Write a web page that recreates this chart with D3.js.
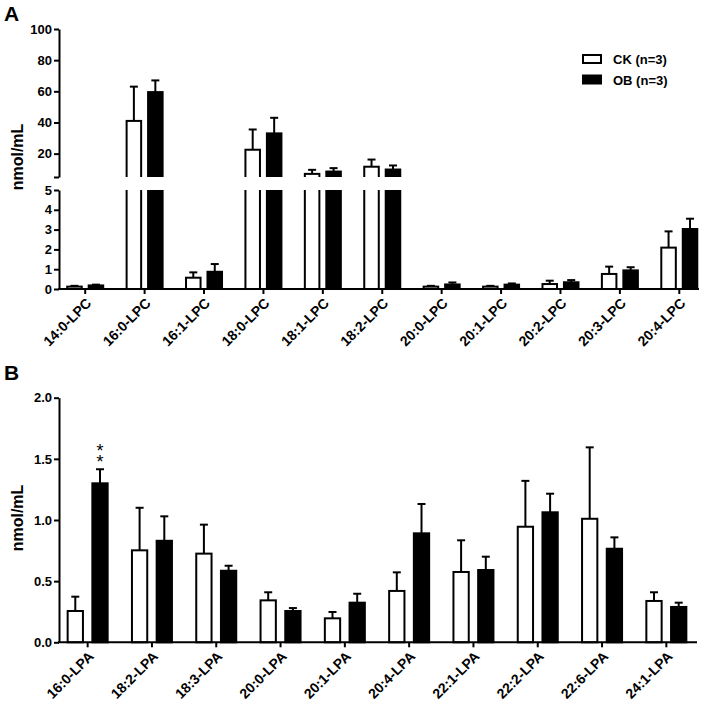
<!DOCTYPE html>
<html><head><meta charset="utf-8">
<script src="https://cdn.jsdelivr.net/npm/d3@7"></script>
<style>
body{margin:0;background:#fff;}
svg{display:block;}
svg text{font-family:"Liberation Sans",Arial,Helvetica,sans-serif !important;font-weight:bold;fill:#000;}
</style></head><body>
<svg id="c" width="709" height="708"></svg>
<script>
// ---- Panel A data (LPC) ----
const lpcCategories = ["14:0-LPC","16:0-LPC","16:1-LPC","18:0-LPC","18:1-LPC","18:2-LPC","20:0-LPC","20:1-LPC","20:2-LPC","20:3-LPC","20:4-LPC"];
const lpcCK    = [0.12, 41, 0.57, 22.5, 7.0, 11.6, 0.12, 0.12, 0.25, 0.76, 2.09];
const lpcCKErr = [0.04, 22, 0.27, 13,   2.6, 4.6,  0.04, 0.04, 0.17, 0.37, 0.82];
const lpcOB    = [0.18, 59.5, 0.87, 33, 8.5, 9.8,  0.23, 0.22, 0.34, 0.94, 3.03];
const lpcOBErr = [0.04, 7.5, 0.39, 10,  2.2, 2.6,  0.10, 0.06, 0.11, 0.16, 0.52];
const lpcUpperTicks = [5, 20, 40, 60, 80, 100];
const lpcLowerTicks = [0, 1, 2, 3, 4, 5];

// ---- Panel B data (LPA) ----
const lpaCategories = ["16:0-LPA","18:2-LPA","18:3-LPA","20:0-LPA","20:1-LPA","20:4-LPA","22:1-LPA","22:2-LPA","22:6-LPA","24:1-LPA"];
const lpaCK    = [0.256, 0.752, 0.725, 0.343, 0.196, 0.420, 0.575, 0.945, 1.010, 0.338];
const lpaCKErr = [0.117, 0.348, 0.237, 0.066, 0.052, 0.152, 0.259, 0.375, 0.584, 0.071];
const lpaOB    = [1.300, 0.830, 0.585, 0.256, 0.324, 0.891, 0.591, 1.063, 0.765, 0.289];
const lpaOBErr = [0.115, 0.200, 0.041, 0.024, 0.073, 0.240, 0.109, 0.152, 0.093, 0.035];
const lpaTicks = [0.0, 0.5, 1.0, 1.5, 2.0];
const lpaSignif = ["**","","","","","","","","",""];

const groups = ["CK","OB"];
const legendLabels = ["CK (n=3)","OB (n=3)"];

const svg = d3.select("#c");
const SW = 2;

function styleAxis(g){
  g.attr("font-family",null).attr("font-size",null);
  g.selectAll("path,line").attr("stroke","#000").attr("stroke-width",SW);
  g.selectAll("text").style("font-size","13px").style("font-weight","bold");
}

// ===================== PANEL A =====================
const A = svg.append("g");
const xA = d3.scaleBand().domain(lpcCategories).range([55.5, 709]).paddingInner(0).paddingOuter(0);
const yAU = d3.scaleLinear().domain([5,100]).range([177,29]);
const yAL = d3.scaleLinear().domain([0,5]).range([289,190]);
const xAin = d3.scaleBand().domain(groups).range([-19,19]).paddingInner(0.23);

const defs = svg.append("defs");
defs.append("clipPath").attr("id","clipU").append("rect").attr("x",0).attr("y",0).attr("width",709).attr("height",177);
defs.append("clipPath").attr("id","clipL").append("rect").attr("x",0).attr("y",190).attr("width",709).attr("height",100);

const dataA = [];
lpcCategories.forEach((c,i)=>{
  dataA.push({c, g:"CK", v:lpcCK[i], e:lpcCKErr[i]});
  dataA.push({c, g:"OB", v:lpcOB[i], e:lpcOBErr[i]});
});

function barX(xs, xin, d){ return xs(d.c) + xs.bandwidth()/2 + xin(d.g); }

[["clipU", yAU, 400], ["clipL", yAL, 0]].forEach(([clip, ys, ext])=>{
  const seg = A.append("g").attr("clip-path",`url(#${clip})`);
  seg.selectAll("rect").data(dataA).enter().append("rect")
    .attr("x", d=>barX(xA,xAin,d)+SW/2)
    .attr("width", xAin.bandwidth()-SW)
    .attr("y", d=>ys(d.v))
    .attr("height", d=>Math.max(0, ys(0)-ys(d.v) + ext))
    .attr("fill", d=>d.g==="CK"?"#fff":"#000")
    .attr("stroke","#000").attr("stroke-width",SW);
  const eb = seg.selectAll("g.eb").data(dataA).enter().append("g");
  eb.append("line")
    .attr("x1", d=>barX(xA,xAin,d)+xAin.bandwidth()/2)
    .attr("x2", d=>barX(xA,xAin,d)+xAin.bandwidth()/2)
    .attr("y1", d=>ys(d.v)).attr("y2", d=>ys(d.v+d.e))
    .attr("stroke","#000").attr("stroke-width",SW);
  eb.append("line")
    .attr("x1", d=>barX(xA,xAin,d)+xAin.bandwidth()/2-4)
    .attr("x2", d=>barX(xA,xAin,d)+xAin.bandwidth()/2+4)
    .attr("y1", d=>ys(d.v+d.e)).attr("y2", d=>ys(d.v+d.e))
    .attr("stroke","#000").attr("stroke-width",SW);
});

const axAU = A.append("g").attr("transform","translate(59,0)")
  .call(d3.axisLeft(yAU).tickValues(lpcUpperTicks).tickSize(5).tickPadding(2).tickSizeOuter(0).tickFormat(d=>d===5?"":d3.format("d")(d)));
styleAxis(axAU);
const axAL = A.append("g").attr("transform","translate(59,0)")
  .call(d3.axisLeft(yAL).tickValues(lpcLowerTicks).tickSize(5).tickPadding(2).tickSizeOuter(0).tickFormat(d3.format("d")));
styleAxis(axAL);

const axAX = A.append("g").attr("transform","translate(0,289)")
  .call(d3.axisBottom(xA).tickSize(5).tickSizeOuter(0));
axAX.select(".domain").remove();
axAX.append("line").attr("x1",58).attr("x2",699).attr("y1",0).attr("y2",0);
styleAxis(axAX);
axAX.selectAll("text").style("font-size","14px")
  .attr("text-anchor","end").attr("dx",0).attr("dy",0).attr("y",0)
  .attr("transform","translate(7,15) rotate(-45)");

A.append("text").attr("transform","translate(23,157) rotate(-90)").attr("text-anchor","middle")
  .style("font-size","16px").text("nmol/mL");
A.append("text").attr("x",4).attr("y",21).style("font-size","21px").text("A");

// legend
const leg = A.append("g");
groups.forEach((g,i)=>{
  leg.append("rect").attr("x",583).attr("y",55+i*20.5).attr("width",18).attr("height",8)
    .attr("fill", g==="CK"?"#fff":"#000").attr("stroke","#000").attr("stroke-width",SW);
  leg.append("text").attr("x",613).attr("y",64+i*20.5).style("font-size","13px").text(legendLabels[i]);
});

// ===================== PANEL B =====================
const B = svg.append("g");
const xB = d3.scaleBand().domain(lpaCategories).range([55.5, 698.5]).paddingInner(0).paddingOuter(0);
const yB = d3.scaleLinear().domain([0,2]).range([642.3, 397.7]);
const xBin = d3.scaleBand().domain(groups).range([-21,21]).paddingInner(0.3);

const dataB = [];
lpaCategories.forEach((c,i)=>{
  dataB.push({c, g:"CK", v:lpaCK[i], e:lpaCKErr[i], s:""});
  dataB.push({c, g:"OB", v:lpaOB[i], e:lpaOBErr[i], s:lpaSignif[i]});
});

B.selectAll("rect.bar").data(dataB).enter().append("rect")
  .attr("x", d=>barX(xB,xBin,d)+SW/2)
  .attr("width", xBin.bandwidth()-SW)
  .attr("y", d=>yB(d.v))
  .attr("height", d=>yB(0)-yB(d.v))
  .attr("fill", d=>d.g==="CK"?"#fff":"#000")
  .attr("stroke","#000").attr("stroke-width",SW);
const ebB = B.selectAll("g.eb").data(dataB).enter().append("g");
ebB.append("line")
  .attr("x1", d=>barX(xB,xBin,d)+xBin.bandwidth()/2)
  .attr("x2", d=>barX(xB,xBin,d)+xBin.bandwidth()/2)
  .attr("y1", d=>yB(d.v)).attr("y2", d=>yB(d.v+d.e))
  .attr("stroke","#000").attr("stroke-width",SW);
ebB.append("line")
  .attr("x1", d=>barX(xB,xBin,d)+xBin.bandwidth()/2-4)
  .attr("x2", d=>barX(xB,xBin,d)+xBin.bandwidth()/2+4)
  .attr("y1", d=>yB(d.v+d.e)).attr("y2", d=>yB(d.v+d.e))
  .attr("stroke","#000").attr("stroke-width",SW);
// significance stars: one text, glyphs stacked vertically (text rotated 90, glyphs rotated back)
dataB.filter(d=>d.s).forEach(d=>{
  const cx = barX(xB,xBin,d)+xBin.bandwidth()/2;
  const top = yB(d.v+d.e);
  const y0 = top - 12;
  B.append("text")
    .attr("transform",`translate(${cx-3.6},${y0}) rotate(90)`)
    .attr("x",0).attr("y",0)
    .attr("rotate","-90")
    .attr("dx", d.s.split("").map((_,k)=>k===0?0:4).join(" "))
    .style("font-size","18px").style("font-weight","normal")
    .text(d.s);
});

const axBY = B.append("g").attr("transform","translate(59,0)")
  .call(d3.axisLeft(yB).tickValues(lpaTicks).tickSize(5).tickPadding(2).tickSizeOuter(0).tickFormat(d3.format(".1f")));
styleAxis(axBY);
const axBX = B.append("g").attr("transform","translate(0,642.3)")
  .call(d3.axisBottom(xB).tickSize(5).tickSizeOuter(0));
axBX.select(".domain").remove();
axBX.append("line").attr("x1",58).attr("x2",697).attr("y1",0).attr("y2",0);
styleAxis(axBX);
axBX.selectAll("text").style("font-size","14px")
  .attr("text-anchor","end").attr("dx",0).attr("dy",0).attr("y",0)
  .attr("transform","translate(7,15) rotate(-45)");

B.append("text").attr("transform","translate(23,518) rotate(-90)").attr("text-anchor","middle")
  .style("font-size","16px").text("nmol/mL");
B.append("text").attr("x",4).attr("y",380).style("font-size","21px").text("B");
</script>
</body></html>
